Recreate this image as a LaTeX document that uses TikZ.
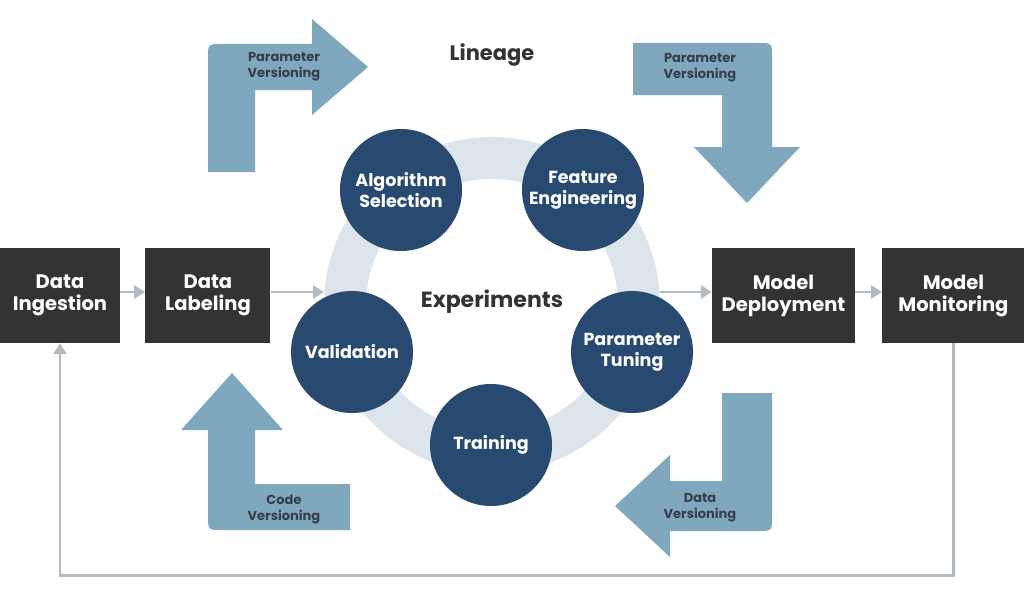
\documentclass[tikz,border=0pt]{standalone}
\usepackage{fontspec}
\setmainfont{Poppins}
\usepackage{tikz}
\usetikzlibrary{arrows.meta,positioning}

\definecolor{boxgray}{HTML}{333333}
\definecolor{navy}{HTML}{284A70}
\definecolor{steel}{HTML}{7FA8BF}
\definecolor{ringblue}{HTML}{DCE5EB}
\definecolor{linkgray}{HTML}{B3BBC2}
\definecolor{labeldark}{HTML}{373D4A}

\begin{document}
\begin{tikzpicture}[x=1pt,y=-1pt,>=Latex,node distance=25pt]
\tikzstyle{box}=[rectangle,fill=boxgray,text=white,align=center,minimum height=95pt,inner sep=0pt,font=\bfseries\fontsize{19.5}{22}\selectfont]
\tikzstyle{stage}=[circle,fill=navy,text=white,align=center,minimum size=122pt,inner sep=0pt,font=\bfseries\fontsize{17.5}{21}\selectfont]
\tikzstyle{link}=[draw=linkgray,line width=2.8pt,-{Triangle[width=13pt,length=11pt]}]
\tikzstyle{bigarrow}=[fill=steel]
\tikzstyle{arrowlabel}=[text=labeldark,align=center,font=\bfseries\fontsize{13}{16}\selectfont]
\tikzstyle{title}=[text=boxgray,font=\bfseries\fontsize{21}{24}\selectfont]
\useasboundingbox (0,0) rectangle (1024,602);
\fill[white] (0,0) rectangle (1024,602);

% block arrows
\fill[bigarrow] (208,172) -- (208,58) .. controls (208,44) .. (222,44) -- (312,44) -- (312,19)
  -- (368,67) -- (312,115) -- (312,90) -- (255,90) -- (255,172) -- cycle;
\fill[bigarrow] (633,43) -- (758,43) .. controls (772,43) .. (772,57) -- (772,147) -- (800,147)
  -- (747,203) -- (694,147) -- (722,147) -- (722,95) -- (633,95) -- cycle;
\fill[bigarrow] (232,373) -- (283,430) -- (255,430) -- (255,484) -- (350,484) -- (350,530)
  -- (222,530) .. controls (208,530) .. (208,516) -- (208,430) -- (181,430) -- cycle;
\fill[bigarrow] (722,393) -- (772,393) -- (772,517) .. controls (772,531) .. (758,531) -- (670,531)
  -- (670,557) -- (615,506) -- (670,455) -- (670,481) -- (722,481) -- cycle;
\node[arrowlabel] (pvleft) at (284,67) {Parameter\\Versioning};
\node[arrowlabel] (pvright) at (700,68) {Parameter\\Versioning};
\node[arrowlabel] (cv) at (284,509) {Code\\Versioning};
\node[arrowlabel] (dv) at (700,508) {Data\\Versioning};

% experiment ring
\node[title] (lineage) at (492,55) {Lineage};
\node[title,font=\bfseries\fontsize{22}{24}\selectfont] (exp) at (492,302) {Experiments};
\draw[ringblue,line width=42pt] (492,305) circle (147pt);
\coordinate (ringin) at (324,292);
\coordinate (ringout) at (660,292);
\node[stage] (algo) at (401,190) {Algorithm\\Selection};
\node[stage] (feat) at (583,190) {Feature\\Engineering};
\node[stage] (tune) at (632,352) {Parameter\\Tuning};
\node[stage] (train) at (491,445) {Training};
\node[stage] (valid) at (352,352) {Validation};

% pipeline
\node[box,minimum width=120pt] (ing) at (60,295.5) {Data\\Ingestion};
\node[box,minimum width=125pt,right=of ing] (lab) {Data\\Labeling};
\node[box,minimum width=143pt] (dep) at (783.5,295.5) {Model\\Deployment};
\node[box,minimum width=142pt,right=27pt of dep] (mon) {Model\\Monitoring};
\draw[link] (ing.east |- 0,292) -- (lab.west |- 0,292);
\draw[link] (lab.east |- ringin) -- (ringin);
\draw[link] (ringout) -- (dep.west |- ringout);
\draw[link] (dep.east |- 0,292) -- (mon.west |- 0,292);
\draw[link] (mon.south) -- ++(0,232) -| (ing.south);
\end{tikzpicture}
\end{document}
